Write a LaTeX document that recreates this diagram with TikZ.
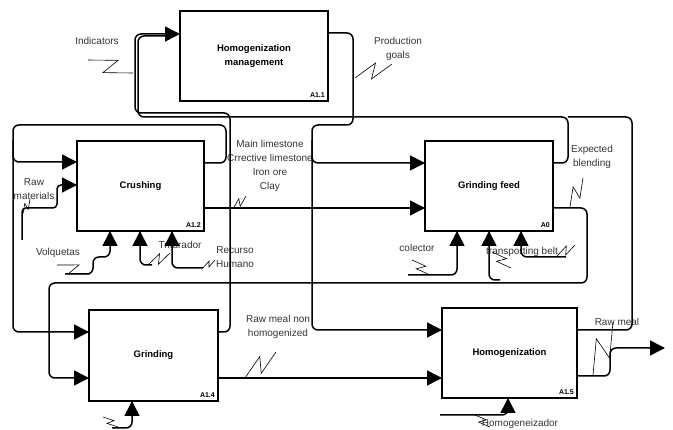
\documentclass[tikz,border=0pt]{standalone}
\usepackage{fontspec}
\setmainfont{Liberation Sans}
\usetikzlibrary{arrows.meta,calc}

\tikzset{
  act/.style={draw, line width=1.6pt, outer sep=0pt, inner sep=0pt, align=center,
    font=\bfseries\fontsize{9.5}{14}\selectfont},
  tag/.style={font=\bfseries\fontsize{7}{8}\selectfont, inner sep=3pt},
  txt/.style={font=\fontsize{10}{14}\selectfont, text=black!80, align=center, inner sep=1pt},
  flow/.style={line width=1.5pt, rounded corners=6pt},
  into/.style={flow, -{Triangle[length=15pt,width=15pt]}},
  zig/.style={line width=0.6pt},
}

% lightning mark from a label to its arrow
\newcommand{\zig}[2]{\draw[zig] (#1) -- ($(#1)!0.62!(#2)!0.45!90:(#2)$) -- ($(#1)!0.38!(#2)!0.45!90:(#1)$) -- (#2);}

\begin{document}
\begin{tikzpicture}[x=1pt, y=-1pt]

\useasboundingbox (0,0) rectangle (673,430);

% activities
\node[act, minimum width=148pt, minimum height=90pt,
  label={[tag,anchor=south east]south east:A1.1}] (mgmt) at (254,56) {Homogenization\\management};
\node[act, minimum width=127pt, minimum height=90pt,
  label={[tag,anchor=south east]south east:A1.2}] (crush) at (140.5,186) {Crushing};
\node[act, minimum width=128pt, minimum height=90pt,
  label={[tag,anchor=south east]south east:A0}] (feed) at (489,186) {Grinding feed};
\node[act, minimum width=129pt, minimum height=91pt,
  label={[tag,anchor=south east]south east:A1.4}] (grind) at (153.5,355.5) {Grinding};
\node[act, minimum width=135pt, minimum height=90pt,
  label={[tag,anchor=south east]south east:A1.5}] (homog) at (509.5,353) {Homogenization};

% ports
\coordinate (mgmt-in) at ([yshift=22pt]mgmt.west);
\coordinate (mgmt-out) at ([yshift=23pt]mgmt.east);

\coordinate (crush-i1) at ([yshift=24pt]crush.west);
\coordinate (crush-i2) at ([yshift=1pt]crush.west);
\coordinate (crush-o1) at ([yshift=23pt]crush.east);
\coordinate (crush-o2) at ([yshift=-22pt]crush.east);
\coordinate (crush-m1) at ([xshift=-30.5pt]crush.south);
\coordinate (crush-m2) at ([xshift=-0.5pt]crush.south);
\coordinate (crush-m3) at ([xshift=31.5pt]crush.south);

\coordinate (feed-i1) at ([yshift=23pt]feed.west);
\coordinate (feed-i2) at ([yshift=-22pt]feed.west);
\coordinate (feed-o1) at ([yshift=23pt]feed.east);
\coordinate (feed-o2) at ([yshift=-22pt]feed.east);
\coordinate (feed-m1) at ([xshift=-32pt]feed.south);
\coordinate (feed-m2) at (feed.south);
\coordinate (feed-m3) at ([xshift=32pt]feed.south);

\coordinate (grind-i1) at ([yshift=23.5pt]grind.west);
\coordinate (grind-i2) at ([yshift=-22.5pt]grind.west);
\coordinate (grind-o1) at ([yshift=23.5pt]grind.east);
\coordinate (grind-o2) at ([yshift=-22.5pt]grind.east);
\coordinate (grind-m) at ([xshift=-21.5pt]grind.south);

\coordinate (homog-i1) at ([yshift=23pt]homog.west);
\coordinate (homog-i2) at (grind-o2 -| homog.west);
\coordinate (homog-o1) at ([yshift=23pt]homog.east);
\coordinate (homog-o2) at ([yshift=-23pt]homog.east);
\coordinate (homog-m) at ([xshift=-1.5pt]homog.south);

% loose ends
\coordinate (raw-src) at (22,240);
\coordinate (volq-src) at (65,274);
\coordinate (trit-src) at (152,265);
\coordinate (hum-src) at (203,268);
\coordinate (col-src) at (408,275);
\coordinate (belt-src) at (500,280);
\coordinate (belt2-src) at (566,257);
\coordinate (gm-src) at (112,428);
\coordinate (hm-src) at (440,415);
\coordinate (exit) at (665,348);

% labels
\node[txt] (ind-lbl) at (97,41) {Indicators};
\node[txt] (goal-lbl) at (398,49) {Production\\goals};
\node[txt] (raw-lbl) at (34,189) {Raw\\materials};
\node[txt] (mat-lbl) at (270,166) {Main limestone\\Crrective limestone\\Iron ore\\Clay};
\node[txt] (volq-lbl) at (58,253) {Volquetas};
\node[txt] (trit-lbl) at (180,245) {Triturador};
\node[txt] (hum-lbl) at (235,257) {Recurso\\Humano};
\node[txt] (col-lbl) at (417,248) {colector};
\node[txt] (belt-lbl) at (522,252) {transporting belt};
\node[txt] (blend-lbl) at (592,157) {Expected\\blending};
\node[txt] (nonh-lbl) at (278,327) {Raw meal non\\homogenized};
\node[txt] (meal-lbl) at (617,322) {Raw meal};
\node[txt] (hz-lbl) at (520,424) {Homogeneizador};

% inputs and outputs
\draw[into] (crush-o1) -| (226,125) -| (13,332) -- (grind-i1);
\draw[into] (13,140) |- (crush-i1);

\draw[into] (grind-o1) -| (230,113) -| (135,34) -- (mgmt-in);
\draw[flow] (feed-o1) -| (568,117) -| (138,36) -- (165,36);
\draw[flow] (homog-o1) -| (632,117) -- (568,117);

\draw[into] (mgmt-out) -| (353,125) -| (312,330) -- (homog-i1);
\draw[into] (312,140) |- (feed-i1);

\draw[into] (crush-o2) -- (feed-i2);
\draw[into] (feed-o2) -| (587,283) -| (49,378) -- (grind-i2);
\draw[into] (grind-o2) -- (homog-i2);
\draw[into] (homog-o2) -| (610,348) -- (exit);

\draw[into, rounded corners=4pt] (raw-src) |- (57,208) |- (crush-i2);

% mechanisms
\draw[into] (volq-src) -| (93,257) -| (crush-m1);
\draw[into] (trit-src) -| (crush-m2);
\draw[into] (hum-src) -| (crush-m3);
\draw[into] (col-src) -| (feed-m1);
\draw[into] (belt-src) -| (feed-m2);
\draw[into] (belt2-src) -| (feed-m3);
\draw[into] (gm-src) -| (grind-m);
\draw[into] (hm-src) -| (homog-m);

% squiggles
\zig{88,60}{133,73}
\zig{392,64}{355,78}
\zig{30,199}{23,214}
\zig{246,196}{233,209}
\zig{57,265}{90,274}
\zig{170,253}{148,265}
\zig{215,260}{203,268}
\zig{412,260}{430,275}
\zig{492,252}{511,268}
\zig{575,245}{557,256}
\zig{583,178}{570,207}
\zig{276,352}{245,378}
\zig{103,417}{118,427}
\zig{475,415}{490,427}
\zig{613,322}{593,375}

\end{tikzpicture}
\end{document}
